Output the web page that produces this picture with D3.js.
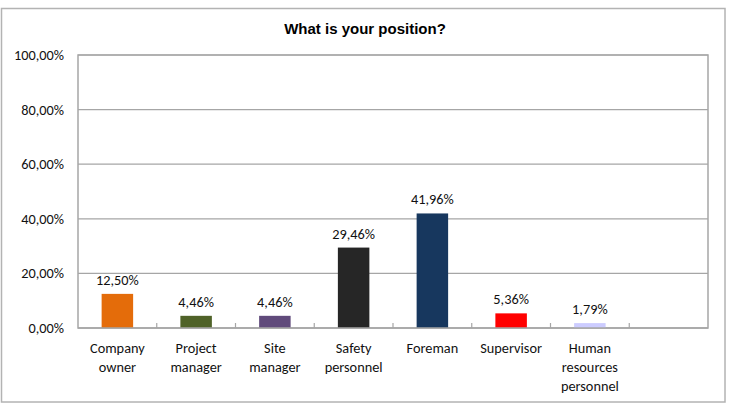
<!DOCTYPE html>
<html><head><meta charset="utf-8">
<script src="https://cdn.jsdelivr.net/npm/d3@7"></script>
<style>body{margin:0;background:#fff}svg{display:block}</style>
</head><body><svg id="c" width="731" height="406"></svg>
<script>
const categories = ["Company\nowner","Project\nmanager","Site\nmanager","Safety\npersonnel","Foreman","Supervisor","Human\nresources\npersonnel",""];
const values = [12.50, 4.46, 4.46, 29.46, 41.96, 5.36, 1.79, null];
const colors = ["#E46C0A","#4F6228","#604A7B","#262626","#17375E","#FF0000","#CCCCFF",null];
const yTicks = [0,20,40,60,80,100];
const title = "What is your position?";

const svg = d3.select("#c");
const fmt = v => v.toFixed(2).replace(".", ",") + "%";
const font = "Carlito, Lato, 'Open Sans', sans-serif";
const fs = 14.3;

svg.append("rect").attr("x",1.5).attr("y",8.5).attr("width",723.5).attr("height",393.5)
  .attr("fill","#fff").attr("stroke","#b3b3b3").attr("stroke-width",1.5);

svg.append("text").attr("x",365).attr("y",34).attr("text-anchor","middle")
  .attr("font-family","'Liberation Sans', Arial, sans-serif").attr("font-weight","bold")
  .attr("font-size",15).attr("fill","#000").text(title);

const L=78, R=708, T=55, B=328;
const x = d3.scaleBand().domain(d3.range(categories.length)).range([L,R]).paddingInner(0.6).paddingOuter(0.3);
const y = d3.scaleLinear().domain([0,100]).range([B,T]);

// gridlines
svg.append("g").selectAll("line").data(yTicks.filter(t=>t>0)).join("line")
  .attr("x1",L).attr("x2",R).attr("y1",d=>y(d)).attr("y2",d=>y(d))
  .attr("stroke","#a6a6a6").attr("stroke-width",1.2);

// plot border
svg.append("rect").attr("x",L).attr("y",T).attr("width",R-L).attr("height",B-T)
  .attr("fill","none").attr("stroke","#a6a6a6").attr("stroke-width",1.5);

// y axis
const ya = svg.append("g").attr("transform",`translate(${L},0)`)
  .call(d3.axisLeft(y).tickValues(yTicks).tickSize(0).tickPadding(14).tickFormat(d=>fmt(d)));
ya.select(".domain").remove();
ya.selectAll("text").attr("font-family",font).attr("font-size",fs).attr("fill","#111");

// x ticks at band boundaries
const bounds = d3.range(1, categories.length).map(i => L + i*(R-L)/categories.length);
svg.append("g").selectAll("line").data(bounds).join("line")
  .attr("x1",d=>d).attr("x2",d=>d).attr("y1",B).attr("y2",B-5)
  .attr("stroke","#a6a6a6").attr("stroke-width",1.2);

// bars
const data = values.map((v,i)=>({v,i,c:colors[i]})).filter(d=>d.v!=null);
svg.append("g").selectAll("rect").data(data).join("rect")
  .attr("x",d=>x(d.i)).attr("width",x.bandwidth())
  .attr("y",d=>y(d.v)).attr("height",d=>y(0)-y(d.v)).attr("fill",d=>d.c);

// bottom axis line on top
svg.append("line").attr("x1",L).attr("x2",R).attr("y1",B).attr("y2",B)
  .attr("stroke","#a6a6a6").attr("stroke-width",1.5);

// value labels
svg.append("g").selectAll("text").data(data).join("text")
  .attr("x",d=>x(d.i)+x.bandwidth()/2).attr("y",d=>y(d.v)-9)
  .attr("text-anchor","middle").attr("font-family",font).attr("font-size",fs).attr("fill","#111")
  .text(d=>fmt(d.v));

// category labels
const cg = svg.append("g").selectAll("text").data(categories).join("text")
  .attr("x",(d,i)=>x(i)+x.bandwidth()/2).attr("y",353)
  .attr("text-anchor","middle").attr("font-family",font).attr("font-size",fs).attr("fill","#111");
cg.each(function(d){
  const t=d3.select(this);
  d.split("\n").forEach((s,k)=>t.append("tspan").attr("x",t.attr("x")).attr("dy",k?19:0).text(s));
});
</script></body></html>
